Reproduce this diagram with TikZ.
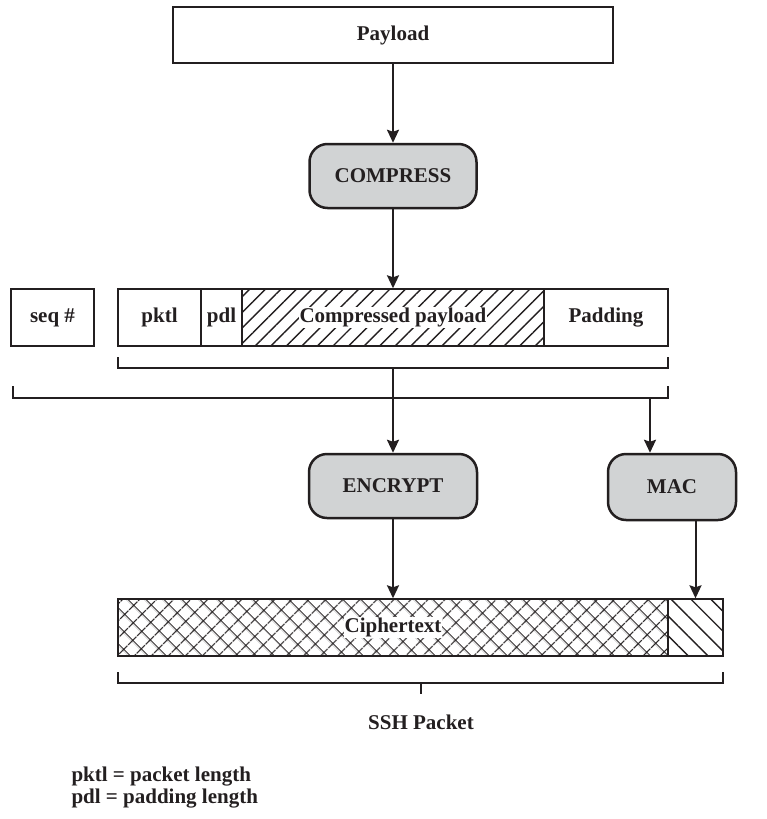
\documentclass[tikz,border=0pt]{standalone}
\usepackage{fontspec}
\setmainfont{Liberation Serif}
\usetikzlibrary{arrows.meta,patterns.meta}

\definecolor{boxgray}{RGB}{209,211,212}
\definecolor{inkblack}{RGB}{35,31,32}

\begin{document}
\begin{tikzpicture}[x=1pt, y=-1pt, >={Stealth[length=13pt,width=12pt,inset=2pt]},
    every node/.style={font=\bfseries\fontsize{21}{25}\selectfont, text=inkblack},
    field/.style={draw=inkblack, line width=2.5pt, minimum height=57pt, inner sep=0pt},
    opbox/.style={draw=inkblack, line width=2.5pt, fill=boxgray, rounded corners=18pt,
        minimum height=64pt, inner sep=0pt},
    flow/.style={->, draw=inkblack, line width=2pt},
    brace/.style={draw=inkblack, line width=2.5pt}]
    \useasboundingbox (0,0) rectangle (767,819);

    % top of the chain
    \node[field, minimum width=440pt, minimum height=56pt] (payload) at (393,35) {Payload};
    \node[opbox, minimum width=167pt] (compress) at (393,176) {COMPRESS};

    % packet fields
    \node[field, minimum width=83pt] (seqno) at (52.5,317.5) {seq \#};
    \node[field, minimum width=83pt] (pktl) at (159.5,317.5) {pktl};
    \node[field, minimum width=41pt] (pdl) at (221.5,317.5) {pdl};
    \node[field, minimum width=302pt,
        pattern={Lines[angle=45,distance=11pt,line width=1.4pt]}, pattern color=inkblack]
        (cpayload) at (393,317.5) {};
    \node[fill=white, inner sep=1pt] (cplabel) at (cpayload) {Compressed payload};
    \node[field, minimum width=124pt] (padding) at (606,317.5) {Padding};

    \draw[flow] (payload) -- (compress);
    \draw[flow] (compress) -- (cpayload);

    % brackets over the packet and over seq # + packet
    \coordinate (b1l) at (118,357);
    \coordinate (b1r) at (668,357);
    \coordinate (tap1) at (393,368);
    \draw[brace] (b1l) |- (tap1) -| (b1r);
    \coordinate (b2l) at (13,386);
    \coordinate (b2r) at (668,386);
    \coordinate (tap2) at (650,398);
    \draw[brace] (b2l) |- (tap2) -| (b2r);

    \node[opbox, minimum width=168pt] (encrypt) at (393,486) {ENCRYPT};
    \node[opbox, minimum width=128pt, minimum height=66pt] (mac) at (672,487) {MAC};

    \draw[flow] (tap1) -- (encrypt);
    \draw[flow] (tap2) -- (tap2 |- mac.north);

    % ssh packet
    \node[field, minimum width=550pt,
        pattern={Hatch[angle=45,distance=13pt,line width=1.4pt]}, pattern color=inkblack]
        (cipher) at (393,627.5) {};
    \node[fill=white, inner sep=1pt] (ctlabel) at (cipher) {Ciphertext};
    \node[field, minimum width=55pt,
        pattern={Lines[angle=-45,distance=14pt,line width=1.4pt]}, pattern color=inkblack]
        (macval) at (695.5,627.5) {};

    \draw[flow] (encrypt) -- (cipher);
    \draw[flow] (mac.south -| macval.north) -- (macval.north);

    \coordinate (b3l) at (118,672);
    \coordinate (b3r) at (723,672);
    \coordinate (tap3) at (421,683);
    \coordinate (tick3) at (421,694);
    \draw[brace] (b3l) |- (tap3) -| (b3r);
    \draw[brace] (tap3) -- (tick3);
    \node (ssh) at (421,722) {SSH Packet};

    % legend
    \node[anchor=west] (leg1) at (68,777) {pktl = packet length};
    \node[anchor=west] (leg2) at (68,799) {pdl = padding length};
\end{tikzpicture}
\end{document}
